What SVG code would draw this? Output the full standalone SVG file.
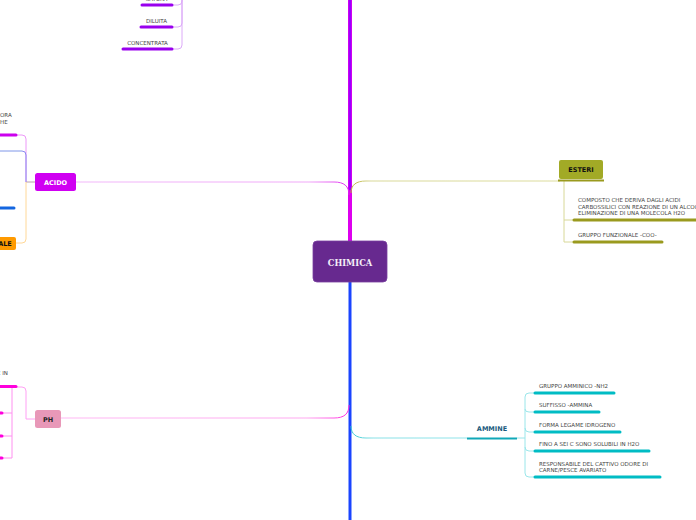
<svg xmlns="http://www.w3.org/2000/svg" width="696" height="520" viewBox="0 0 696 520">
<style>
.t{font-family:"DejaVu Sans","Verdana",sans-serif;font-size:5.5px;fill:#444;}
.nb{font-family:"DejaVu Sans","Verdana",sans-serif;font-weight:bold;font-size:6.5px;text-anchor:middle;dominant-baseline:central;}
.ln{fill:none;stroke-width:1;}
.bar{stroke-width:3;stroke-linecap:round;fill:none;}
</style>
<defs>
<linearGradient id="gAcido" x1="76" y1="0" x2="350" y2="0" gradientUnits="userSpaceOnUse"><stop offset="0" stop-color="#f2b8fa"/><stop offset="0.85" stop-color="#f0a8f8"/><stop offset="1" stop-color="#dd22ee"/></linearGradient>
<linearGradient id="gPh" x1="60" y1="0" x2="350" y2="0" gradientUnits="userSpaceOnUse"><stop offset="0" stop-color="#ffb8f4"/><stop offset="0.85" stop-color="#ffa8f0"/><stop offset="1" stop-color="#ff22dd"/></linearGradient>
<linearGradient id="gEst" x1="350" y1="0" x2="560" y2="0" gradientUnits="userSpaceOnUse"><stop offset="0" stop-color="#b8b030"/><stop offset="0.1" stop-color="#d8d898"/><stop offset="1" stop-color="#dcdc9c"/></linearGradient>
<linearGradient id="gAmm" x1="350" y1="0" x2="467" y2="0" gradientUnits="userSpaceOnUse"><stop offset="0" stop-color="#30c8d0"/><stop offset="0.2" stop-color="#88e0e6"/><stop offset="1" stop-color="#90e4ea"/></linearGradient>
</defs>
<g id="connectors">
  <line x1="350" y1="0" x2="350" y2="242" stroke="#dd00ee" stroke-width="4"/>
  <line x1="350" y1="0" x2="350" y2="190" stroke="#9900ff" stroke-width="2.4"/>
  <line x1="350" y1="281" x2="350" y2="520" stroke="#1a44ff" stroke-width="3"/>
  <path class="ln" d="M76,182 H334 C344,182 349,186 349,195" stroke="url(#gAcido)"/>
  <path class="ln" d="M60,418 H334 C344,418 349,414 349,405" stroke="url(#gPh)"/>
  <path class="ln" d="M351,193 C351,185 356,181 366,181 H560" stroke="url(#gEst)"/>
  <path class="ln" d="M351,426 C351,434 356,438 366,438 H467" stroke="url(#gAmm)"/>
  <path class="ln" d="M173,5 H178 Q182,5 182,1 V0 M173,27 H178 Q182,27 182,23 V0 M173,49 H178 Q182,49 182,45 V0" stroke="#dcaaf8"/>
  <line x1="26" y1="182" x2="35" y2="182" stroke="#b8a0a8" stroke-width="1"/>
  <path class="ln" d="M17,135 H22 Q26,135 26,139 V182" stroke="#ec98f8"/>
  <path class="ln" d="M0,151 H22 Q26,151 26,155 V182" stroke="#8a8af0"/>
  <path class="ln" d="M0,151 H22" stroke="#b8d0f0"/>
  <path class="ln" d="M16,243 H22 Q26,243 26,239 V182" stroke="#ffd898"/>
  <path class="ln" d="M17,387 H22 Q26,387 26,391 V419 H35" stroke="#ffa0f4"/>
  <path class="ln" d="M12,387 V458 M3,413 H12 M3,436 H12 M3,458 H12" stroke="#ff90f0"/>
  <path class="ln" d="M564,181 V242 M564,220 H574 M564,242 H574" stroke="#d8d898"/>
  <path class="ln" d="M517,438 H525 M535,393 H529 Q525,393 525,397 V473 Q525,477 529,477 H535 M525,409 Q525,412 529,412 H535 M525,428 Q525,432 529,432 H535 M525,447 Q525,451 529,451 H535" stroke="#9ae6ea"/>
</g>

<g id="chimica">
  <rect x="313" y="241" width="74" height="41" rx="4" fill="#67298f" stroke="#7a40a0" stroke-width="0.8"/>
  <text x="350" y="263" font-family="'DejaVu Serif','Liberation Serif',serif" font-weight="bold" font-size="8.3" fill="#f4eef8" text-anchor="middle" dominant-baseline="central">CHIMICA</text>
</g>

<g id="acido">
  <rect x="35" y="173" width="41" height="18" rx="2.5" fill="#d000f2"/>
  <text class="nb" x="55.5" y="182.5" fill="#ffffff">ACIDO</text>
</g>
<g id="acido-c1">
  <text class="t" x="0" y="117">ORA</text>
  <text class="t" x="0" y="124">HE</text>
  <line class="bar" x1="-2" y1="135" x2="16" y2="135" stroke="#cc00ee"/>
</g>
<g id="acido-c3">
  <line class="bar" x1="-2" y1="208" x2="14" y2="208" stroke="#1466e0"/>
</g>
<g id="acido-c4">
  <rect x="-6" y="237" width="22" height="13" rx="2" fill="#ff9a00"/>
  <text class="nb" x="5" y="243.7" fill="#111">ALE</text>
</g>

<g id="soluzioni">
  <text class="t" x="156.5" y="1" text-anchor="middle">SATURA</text>
  <line class="bar" x1="142" y1="5" x2="172" y2="5" stroke="#9900ee"/>
  <text class="t" x="156.5" y="23" text-anchor="middle">DILUITA</text>
  <line class="bar" x1="141" y1="27" x2="172" y2="27" stroke="#9900ee"/>
  <text class="t" x="147.5" y="45" text-anchor="middle">CONCENTRATA</text>
  <line class="bar" x1="123" y1="49" x2="172" y2="49" stroke="#9900ee"/>
</g>

<g id="ph">
  <rect x="35" y="410" width="26" height="18" rx="2.5" fill="#e898b8"/>
  <text class="nb" x="48" y="419.5" fill="#222">PH</text>
</g>
<g id="ph-c1">
  <text class="t" x="-3" y="375">E IN</text>
  <line class="bar" x1="-2" y1="386.5" x2="16" y2="386.5" stroke="#ff00dd"/>
  <line class="bar" x1="-2" y1="413" x2="2" y2="413" stroke="#ff00dd" stroke-width="2"/>
  <line class="bar" x1="-2" y1="436" x2="2" y2="436" stroke="#ff00dd" stroke-width="2"/>
  <line class="bar" x1="-2" y1="458" x2="2" y2="458" stroke="#ff00dd" stroke-width="2"/>
</g>

<g id="esteri">
  <rect x="559" y="160" width="44" height="19" rx="2" fill="#a2aa26"/>
  <text class="nb" x="581" y="169.5" fill="#111">ESTERI</text>
  <line x1="558" y1="180.5" x2="604" y2="180.5" stroke="#9a9a1e" stroke-width="2"/>
</g>
<g id="esteri-c1">
  <text class="t" x="578" y="202">COMPOSTO CHE DERIVA DAGLI ACIDI</text>
  <text class="t" x="578" y="209">CARBOSSILICI CON REAZIONE DI UN ALCOOL ED</text>
  <text class="t" x="578" y="214.5">ELIMINAZIONE DI UNA MOLECOLA H2O</text>
  <line class="bar" x1="574" y1="220" x2="700" y2="220" stroke="#9a9a1e"/>
</g>
<g id="esteri-c2">
  <text class="t" x="578" y="237">GRUPPO FUNZIONALE -COO-</text>
  <line class="bar" x1="574" y1="242" x2="662" y2="242" stroke="#9a9a1e"/>
</g>

<g id="ammine">
  <text class="nb" x="492" y="428.5" fill="#1a5a7e">AMMINE</text>
  <line x1="467" y1="438.5" x2="517" y2="438.5" stroke="#10a8b8" stroke-width="2"/>
</g>
<g id="ammine-c1">
  <text class="t" x="539" y="388">GRUPPO AMMINICO -NH2</text>
  <line class="bar" x1="535" y1="393" x2="614" y2="393" stroke="#00bcc4"/>
</g>
<g id="ammine-c2">
  <text class="t" x="539" y="407">SUFFISSO -AMMINA</text>
  <line class="bar" x1="535" y1="412" x2="599" y2="412" stroke="#00bcc4"/>
</g>
<g id="ammine-c3">
  <text class="t" x="539" y="426.5">FORMA LEGAME IDROGENO</text>
  <line class="bar" x1="535" y1="432" x2="620" y2="432" stroke="#00bcc4"/>
</g>
<g id="ammine-c4">
  <text class="t" x="539" y="445.5">FINO A SEI C SONO SOLUBILI IN H2O</text>
  <line class="bar" x1="535" y1="451" x2="649" y2="451" stroke="#00bcc4"/>
</g>
<g id="ammine-c5">
  <text class="t" x="539" y="466">RESPONSABILE DEL CATTIVO ODORE DI</text>
  <text class="t" x="539" y="472">CARNE/PESCE AVARIATO</text>
  <line class="bar" x1="535" y1="477" x2="660" y2="477" stroke="#00bcc4"/>
</g>
</svg>
